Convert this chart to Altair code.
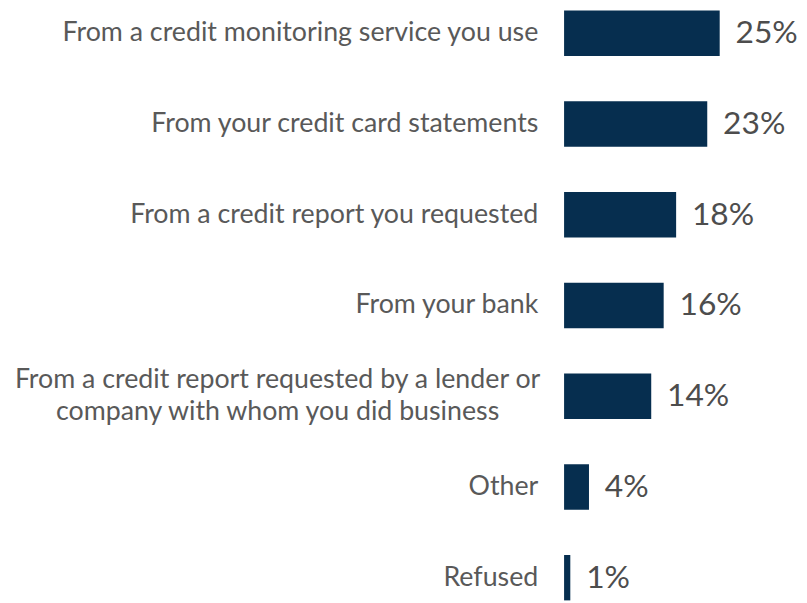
import altair as alt
import pandas as pd

categories = [
    "From a credit monitoring service you use",
    "From your credit card statements",
    "From a credit report you requested",
    "From your bank",
    "From a credit report requested by a lender or\ncompany with whom you did business",
    "Other",
    "Refused",
]
values = [25, 23, 18, 16, 14, 4, 1]
value_labels = ["25%", "23%", "18%", "16%", "14%", "4%", "1%"]

df = pd.DataFrame({
    "cat": categories,
    "val": values,
    "lab": value_labels,
    "multi": ["\n" in c for c in categories],
})

FONT = "Lato"
BAR = "#062e4f"

y = alt.Y("cat:N", sort=categories, axis=None,
          scale=alt.Scale(paddingInner=0.5, paddingOuter=0))
x = alt.X("val:Q", axis=None, scale=alt.Scale(domain=[0, 25], nice=False))

bars = alt.Chart(df).mark_bar(color=BAR).encode(x=x, y=y)

pct = alt.Chart(df).mark_text(
    align="left", baseline="middle", dx=16, fontSize=32, font=FONT,
    color="#4d4d4d"
).encode(x=x, y=y, text="lab:N")

single = alt.Chart(df).transform_filter("!datum.multi").mark_text(
    align="right", baseline="middle", fontSize=27, font=FONT, color="#595959"
).encode(x=alt.value(-26), y=y, text="cat:N")

multi = alt.Chart(df).transform_filter("datum.multi").mark_text(
    align="center", baseline="middle", fontSize=27, font=FONT, color="#595959",
    lineBreak="\n", lineHeight=32, dy=-16
).encode(x=alt.value(-289), y=y, text="cat:N")

chart = alt.layer(bars, pct, single, multi).properties(
    width=157, height=595,
    autosize=alt.AutoSizeParams(type="none"),
    padding={"left": 561, "top": 0, "right": 80, "bottom": 0},
).configure_view(stroke=None)

chart.save("out.html", embed_options={"renderer": "svg", "actions": False})
